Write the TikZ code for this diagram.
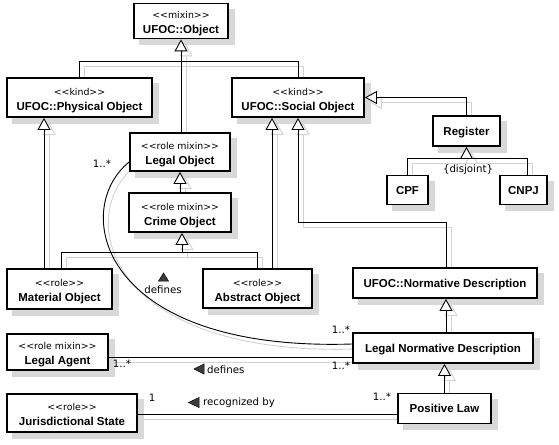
\documentclass[tikz,border=0pt]{standalone}
\usepackage{fontspec}
\setmainfont{Liberation Sans}
\newfontfamily\stfont{DejaVu Sans}
\usetikzlibrary{arrows.meta}
\pgfdeclarelayer{bsh}
\pgfdeclarelayer{lsh}
\pgfsetlayers{bsh,lsh,main}
\definecolor{boxshade}{HTML}{D8D8D8}
\definecolor{lineshade}{HTML}{D2D2D2}
\definecolor{markgray}{HTML}{3C3C3C}
\tikzset{
 cls/.style={draw=black,line width=1.8pt,fill=white,inner sep=0pt},
 stt/.style={font=\stfont\fontsize{9.4}{11}\selectfont,inner sep=0pt,anchor=base},
 ttl/.style={font=\bfseries\fontsize{11.5}{13}\selectfont,inner sep=0pt,anchor=base},
 lbl/.style={font=\stfont\fontsize{10.2}{12}\selectfont,inner sep=0pt},
 conline/.style={line width=0.9pt,draw=black},
 gen/.style={-{Triangle[length=12pt,width=13pt,fill=white]}},
 shl/.style={draw=lineshade,transform canvas={xshift=5pt,yshift=-5pt}},
 marker/.style={fill=markgray,draw=black,line width=0.5pt,line join=miter},
}
\newcommand\umlboxA[7]{%
 \node[cls,minimum width=#4pt,minimum height=#5pt] (#1) at (#2,#3) {};
 \begin{pgfonlayer}{bsh}\fill[boxshade] ([xshift=6pt,yshift=-6pt]#1.south west) rectangle ([xshift=6pt,yshift=-6pt]#1.north east);\end{pgfonlayer}
 \node[stt] (#1s) at (#2,{#3-2.5}) {#6};
 \node[ttl] (#1t) at (#2,{#3+12.5}) {#7};
}
\newcommand\umlboxB[6]{%
 \node[cls,minimum width=#4pt,minimum height=#5pt] (#1) at (#2,#3) {};
 \begin{pgfonlayer}{bsh}\fill[boxshade] ([xshift=6pt,yshift=-6pt]#1.south west) rectangle ([xshift=6pt,yshift=-6pt]#1.north east);\end{pgfonlayer}
 \node[ttl] (#1t) at (#2,{#3+4}) {#6};
}
\newcommand\conn[2]{%
 \begin{pgfonlayer}{lsh}\draw[conline,#1,shl] #2;\end{pgfonlayer}
 \draw[conline,#1] #2;
}
\begin{document}
\begin{tikzpicture}[x=1pt,y=-1pt]
\begin{pgfonlayer}{bsh}
\fill[white] (0,0) rectangle (559,444);
\end{pgfonlayer}
\useasboundingbox (0,0) rectangle (559,444);

% classes
\umlboxA{obj}{181}{21}{94}{35}{<{}<mixin>{}>}{UFOC::Object}
\umlboxA{phys}{79.5}{97.5}{145}{39}{<{}<kind>{}>}{UFOC::Physical Object}
\umlboxA{soc}{298}{97.5}{132}{39}{<{}<kind>{}>}{UFOC::Social Object}
\umlboxB{reg}{466.5}{131}{67}{30}{Register}
\umlboxA{legal}{180}{152}{100}{38}{<{}<role mixin>{}>}{Legal Object}
\umlboxA{crime}{180}{212.5}{102}{39}{<{}<role mixin>{}>}{Crime Object}
\umlboxA{mat}{59.5}{289}{105}{40}{<{}<role>{}>}{Material Object}
\umlboxA{abs}{257.5}{288.5}{109}{39}{<{}<role>{}>}{Abstract Object}
\umlboxB{cpf}{407.5}{190}{41}{29}{CPF}
\umlboxB{cnpj}{523.5}{190}{47}{29}{CNPJ}
\umlboxB{nd}{445}{283}{184}{30}{UFOC::Normative Description}
\umlboxB{lnd}{443}{348}{180}{30}{Legal Normative Description}
\umlboxB{pl}{444.5}{408.5}{93}{30}{Positive Law}
\umlboxA{agent}{57.5}{352}{101}{36}{<{}<role mixin>{}>}{Legal Agent}
\umlboxA{juris}{72}{413}{130}{38}{<{}<role>{}>}{Jurisdictional State}

% helper coordinates
\coordinate (jo) at (181,61);
\coordinate (xm) at (44,0);
\coordinate (jc) at (182,252);
\coordinate (xmc) at (61,0);
\coordinate (xsa) at (272,0);
\coordinate (jn) at (298,222);
\coordinate (jr) at (467,158);
\coordinate (xcn) at (527,0);
\coordinate (xnd) at (446,0);
\coordinate (ya) at (0,357);
\coordinate (yj) at (0,414);
\coordinate (cs) at ([yshift=-10pt]legal.west);
\coordinate (ce) at ([yshift=4pt]lnd.west);

% generalizations
\conn{gen}{(legal.north -| jo) -- (obj.south -| jo)}
\conn{}{(phys.north) |- (jo)}
\conn{}{(soc.north) |- (jo)}
\conn{gen}{(mat.north -| xm) -- (phys.south -| xm)}
\conn{gen}{(crime.north) -- (legal.south)}
\conn{gen}{(jc) -- (crime.south -| jc)}
\conn{}{(jc) -| (mat.north -| xmc)}
\conn{}{(jc) -| (abs.north)}
\conn{gen}{(abs.north -| xsa) -- (soc.south -| xsa)}
\conn{gen}{(nd.north -| xnd) |- (jn) -- (soc.south)}
\conn{gen}{(reg.north) |- (soc.east)}
\conn{gen}{(reg.south |- jr) -- (reg.south)}
\conn{}{(reg.south |- jr) -| (cpf.north)}
\conn{}{(reg.south |- jr) -| (cnpj.north -| xcn)}
\conn{gen}{(lnd.north -| xnd) -- (nd.south -| xnd)}
\conn{gen}{(pl.north) -- (lnd.south -| pl.north)}

% associations
\conn{}{(cs) .. controls (70,210) and (100,352) .. (ce)}
\conn{}{(agent.east |- ya) -- (lnd.west |- ya)}
\conn{}{(juris.east |- yj) -- (pl.west |- yj)}

% association labels
\node[lbl] (dj) at (468,170) {\{disjoint\}};
\node[lbl] (m1) at (102,164) {1..*};
\node[lbl] (m2) at (341,330) {1..*};
\node[lbl] (m3) at (122,364) {1..*};
\node[lbl] (m4) at (341,366) {1..*};
\node[lbl] (m5) at (152,398) {1};
\node[lbl] (m6) at (382,397) {1..*};
\fill[marker] (163.5,273) -- (168.5,281) -- (158.5,281) -- cycle;
\node[lbl] (d1) at (163,290) {defines};
\fill[marker] (194,369) -- (204,364) -- (204,374) -- cycle;
\node[lbl,anchor=west] (d2) at (207,369.5) {defines};
\fill[marker] (188.5,402.5) -- (199,397.5) -- (199,407.5) -- cycle;
\node[lbl,anchor=west] (rb) at (203,402.5) {recognized by};
\end{tikzpicture}
\end{document}
